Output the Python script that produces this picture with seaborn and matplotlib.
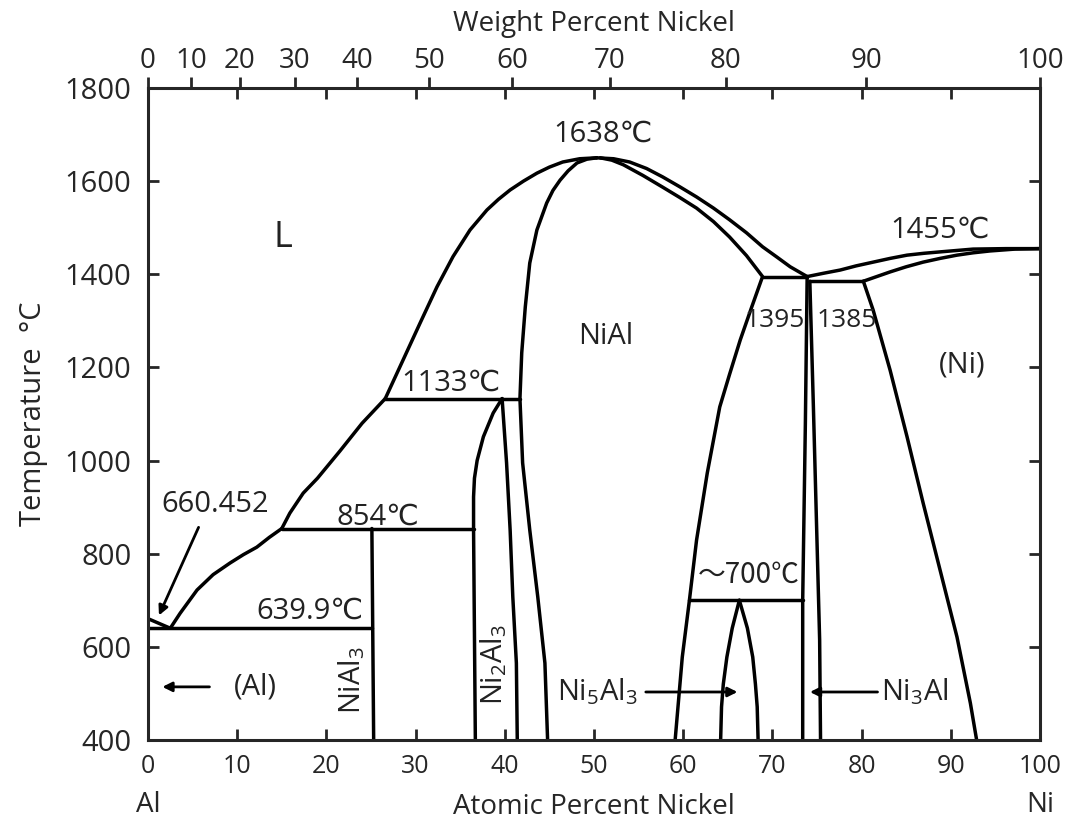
import numpy as np
import seaborn as sns
import matplotlib.pyplot as plt

sns.set_style("ticks")
plt.rcParams['font.family'] = ['Open Sans', 'DejaVu Sans']
plt.rcParams['mathtext.fontset'] = 'custom'
plt.rcParams['mathtext.rm'] = 'Open Sans'
plt.rcParams['mathtext.it'] = 'Open Sans'

# Phase boundaries (atomic % Ni, temperature in C)
al_liq_x = [0, 2.5]
al_liq_t = [660.452, 639.9]

eut_x = [0, 25.1]
eut_t = [639.9, 639.9]

liq1_x = [2.5, 3.6, 5.5, 7.3, 9.2, 10.7, 12.2, 13.6, 15.0]
liq1_t = [639.9, 672, 722, 755, 780, 798, 814, 835, 854]

per854_x = [15.0, 36.5]
per854_t = [854, 854]

liq2_x = [15.0, 15.9, 17.4, 19.0, 21.5, 24.0, 26.6]
liq2_t = [854, 887, 930, 962, 1020, 1080, 1133]

per1133_x = [26.6, 41.7]
per1133_t = [1133, 1133]

liq3_x = [26.6, 28.6, 30.5, 32.4, 34.2, 36.1, 38.0, 39.3, 40.6, 42.1, 43.6, 45.0, 46.5, 48.4, 50.3]
liq3_t = [1133, 1216, 1295, 1373, 1438, 1495, 1538, 1561, 1581, 1600, 1617, 1630, 1641, 1648, 1650]

nial3_x = [25.1, 25.3]
nial3_t = [854, 400]

ni2al3_left_x = [36.7, 36.5, 36.5, 36.6, 36.9, 37.6, 38.7, 39.7]
ni2al3_left_t = [400, 851, 922, 962, 1000, 1051, 1102, 1133]

ni2al3_right_x = [39.7, 40.2, 40.6, 40.9, 41.3, 41.4]
ni2al3_right_t = [1133, 995, 851, 707, 565, 400]

nial_left_x = [44.8, 44.5, 43.7, 42.8, 42.0, 41.7, 41.9, 42.3, 42.8, 43.6, 44.7, 45.4, 46.2, 47.1,
               48.1, 49.2, 50.3]
nial_left_t = [400, 565, 707, 851, 995, 1133, 1231, 1330, 1424, 1495, 1553, 1580, 1602, 1622,
               1639, 1647, 1650]

nial_right_x = [50.7, 52.0, 53.3, 55.5, 57.7, 59.6, 61.5, 63.4, 65.2, 67.1, 68.9, 67.6, 66.4, 65.2,
                64.1, 62.7, 61.5, 60.7, 59.9, 59.1]
nial_right_t = [1650, 1645, 1635, 1612, 1587, 1565, 1542, 1513, 1480, 1440, 1395, 1325, 1259,
                1185, 1115, 973, 829, 700, 578, 400]

liq4_x = [50.3, 52.2, 54.0, 55.9, 57.7, 59.6, 61.5, 63.4, 65.2, 67.1, 68.9, 70.5, 72.0, 73.9]
liq4_t = [1650, 1648, 1641, 1627, 1609, 1588, 1566, 1542, 1517, 1489, 1459, 1437, 1416, 1395]

per1395_x = [68.9, 73.9]
per1395_t = [1395, 1395]

ni3al_left_x = [73.9, 73.7, 73.4, 73.4]
ni3al_left_t = [1395, 1080, 700, 400]

ni3al_right_x = [74.2, 74.6, 75.0, 75.3, 75.4]
ni3al_right_t = [1385, 1115, 829, 615, 400]

per1385_x = [74.2, 80.2]
per1385_t = [1385, 1385]

ni_solvus_x = [80.2, 81.3, 83.2, 85.1, 86.9, 88.8, 90.7, 92.2, 92.9]
ni_solvus_t = [1385, 1323, 1194, 1051, 909, 765, 621, 479, 400]

ni_liq_x = [73.9, 75.7, 77.6, 79.4, 81.3, 83.2, 85.1, 87.0, 88.8, 92.5, 96.2, 100]
ni_liq_t = [1395, 1402, 1409, 1418, 1426, 1434, 1441, 1445, 1448, 1454, 1455, 1455]

ni_sol_x = [80.2, 81.7, 83.2, 85.0, 86.9, 88.8, 90.7, 92.5, 94.4, 97.2, 100]
ni_sol_t = [1385, 1395, 1405, 1416, 1426, 1434, 1441, 1446, 1450, 1454, 1455]

line700_x = [60.7, 73.4]
line700_t = [700, 700]

ni5al3_left_x = [66.3, 65.5, 64.9, 64.5, 64.3, 64.2]
ni5al3_left_t = [700, 640, 578, 520, 471, 400]

ni5al3_right_x = [66.3, 67.2, 67.8, 68.1, 68.3, 68.4]
ni5al3_right_t = [700, 640, 578, 520, 471, 400]

boundaries = [
    (al_liq_x, al_liq_t), (eut_x, eut_t), (liq1_x, liq1_t), (per854_x, per854_t),
    (liq2_x, liq2_t), (per1133_x, per1133_t), (liq3_x, liq3_t), (nial3_x, nial3_t),
    (ni2al3_left_x, ni2al3_left_t), (ni2al3_right_x, ni2al3_right_t),
    (nial_left_x, nial_left_t), (nial_right_x, nial_right_t), (liq4_x, liq4_t),
    (per1395_x, per1395_t), (ni3al_left_x, ni3al_left_t), (ni3al_right_x, ni3al_right_t),
    (per1385_x, per1385_t), (ni_solvus_x, ni_solvus_t), (ni_liq_x, ni_liq_t),
    (ni_sol_x, ni_sol_t), (line700_x, line700_t),
    (ni5al3_left_x, ni5al3_left_t), (ni5al3_right_x, ni5al3_right_t),
]

atomic_ticks = [0, 10, 20, 30, 40, 50, 60, 70, 80, 90, 100]
temp_ticks = [400, 600, 800, 1000, 1200, 1400, 1600, 1800]
weight_ticks = [0, 10, 20, 30, 40, 50, 60, 70, 80, 90, 100]

M_NI = 58.69
M_AL = 26.98


def at2wt(a):
    a = np.asarray(a, dtype=float)
    return 100 * a * M_NI / (a * M_NI + (100 - a) * M_AL)


def wt2at(w):
    w = np.asarray(w, dtype=float)
    return 100 * (w / M_NI) / (w / M_NI + (100 - w) / M_AL)


fig = plt.figure(figsize=(10.74, 8.22), dpi=100)
ax = fig.add_axes([0.1378, 0.0998, 0.8305, 0.7932])

for bx, bt in boundaries:
    sns.lineplot(x=bx, y=bt, sort=False, estimator=None, color='black',
                 linewidth=2.5, ax=ax)

ax.set_xlim(0, 100)
ax.set_ylim(400, 1800)
ax.set_xticks(atomic_ticks)
ax.set_yticks(temp_ticks)
for s in ax.spines.values():
    s.set_visible(True)
    s.set_linewidth(2.2)
ax.tick_params(axis='both', direction='in', length=8, width=2.0,
               top=True, right=True, labeltop=False, labelright=False)
ax.tick_params(axis='x', labelsize=18, pad=10)
ax.tick_params(axis='y', labelsize=21, pad=12)
ax.set_xlabel('Atomic Percent Nickel', fontsize=20, labelpad=10)
ax.set_ylabel('Temperature  °C', fontsize=21, labelpad=12)

sec = ax.secondary_xaxis('top', functions=(at2wt, wt2at))
sec.set_xticks(weight_ticks)
sec.tick_params(direction='out', length=8, width=2.0, labelsize=20, pad=1)
sec.set_xlabel('Weight Percent Nickel', fontsize=20, labelpad=12)

ax.text(0, -0.1, 'Al', transform=ax.transAxes, fontsize=20, ha='center', va='center')
ax.text(1, -0.1, 'Ni', transform=ax.transAxes, fontsize=20, ha='center', va='center')

txt = dict(fontsize=21, ha='center', va='center', color='#222222')
ax.text(15.1, 1478, 'L', fontsize=26, ha='center', va='center', color='#222222')
ax.text(51.0, 1700, '1638℃', **txt)
ax.text(88.8, 1495, '1455℃', **txt)
ax.text(51.3, 1267, 'NiAl', **txt)
ax.text(70.3, 1300, '1395', fontsize=19, ha='center', va='center', color='#222222')
ax.text(78.3, 1300, '1385', fontsize=19, ha='center', va='center', color='#222222')
ax.text(91.3, 1205, '(Ni)', **txt)
ax.text(34.0, 1167, '1133℃', **txt)
ax.text(25.8, 879, '854℃', **txt)
ax.text(7.5, 905, '660.452', **txt)
ax.text(18.2, 677, '639.9℃', **txt)
ax.text(67.3, 754, '～700℃', fontsize=20, ha='center', va='center', color='#222222',
        family=['Noto Sans CJK JP', 'DejaVu Sans'])
ax.text(12.0, 514, '(Al)', **txt)
ax.text(22.9, 529, r'NiAl$_3$', rotation=90, **txt)
ax.text(38.8, 561, r'Ni$_2$Al$_3$', rotation=90, **txt)
ax.text(50.4, 503, r'Ni$_5$Al$_3$', **txt)
ax.text(86.0, 503, r'Ni$_3$Al', **txt)

arrow = dict(arrowstyle='-|>', color='black', lw=2.0, mutation_scale=14)
ax.annotate('', xy=(1.1, 662), xytext=(5.8, 862), arrowprops=arrow)
ax.annotate('', xy=(1.3, 514), xytext=(7.2, 514), arrowprops=arrow)
ax.annotate('', xy=(66.4, 503), xytext=(55.5, 503), arrowprops=arrow)
ax.annotate('', xy=(73.9, 503), xytext=(82.1, 503), arrowprops=arrow)

fig.savefig('out.png', dpi=100)
